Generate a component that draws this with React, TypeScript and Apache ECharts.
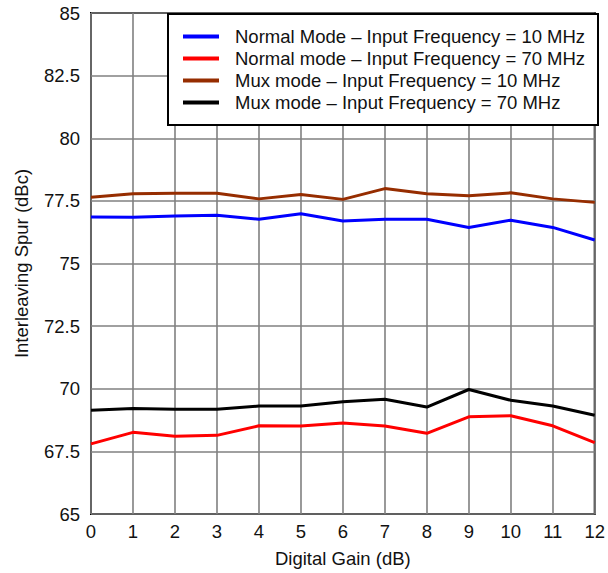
import React, { useEffect, useRef } from "react";
import * as echarts from "echarts";

const gains = [0, 1, 2, 3, 4, 5, 6, 7, 8, 9, 10, 11, 12];
const normal10 = [76.86, 76.85, 76.9, 76.93, 76.77, 76.99, 76.7, 76.77, 76.77, 76.44, 76.73, 76.44, 75.94];
const normal70 = [67.8, 68.26, 68.1, 68.14, 68.52, 68.51, 68.63, 68.51, 68.22, 68.88, 68.92, 68.52, 67.85];
const mux10 = [77.64, 77.78, 77.8, 77.8, 77.58, 77.75, 77.56, 77.99, 77.78, 77.7, 77.82, 77.58, 77.44];
const mux70 = [69.14, 69.21, 69.18, 69.18, 69.31, 69.31, 69.48, 69.58, 69.27, 69.97, 69.54, 69.31, 68.94];
const seriesNames = [
  "Normal Mode \u2013 Input Frequency = 10 MHz",
  "Normal mode \u2013 Input Frequency = 70 MHz",
  "Mux mode \u2013 Input Frequency = 10 MHz",
  "Mux mode \u2013 Input Frequency = 70 MHz",
];
const seriesColors = ["#0000ff", "#ff0000", "#962d00", "#000000"];

export default function App() {
  const ref = useRef<HTMLDivElement>(null);
  useEffect(() => {
    if (!ref.current) return;
    const chart = echarts.init(ref.current, null, { renderer: "svg" });
    const font = "'Liberation Sans', Arial, sans-serif";
    const fs = 18.5;
    const data = [normal10, normal70, mux10, mux70];
    chart.setOption({
      animation: false,
      backgroundColor: "#ffffff",
      grid: {
        left: 91,
        right: 11,
        top: 13,
        bottom: 53,
        show: true,
        borderColor: "#000",
        borderWidth: 2,
      },
      xAxis: {
        type: "value",
        min: 0,
        max: 12,
        interval: 1,
        name: "Digital Gain (dB)",
        nameLocation: "middle",
        nameGap: 35,
        nameTextStyle: { fontFamily: font, fontSize: fs, color: "#111" },
        axisLine: { show: false },
        axisTick: { show: false },
        axisLabel: { fontFamily: font, fontSize: fs, color: "#111", margin: 8 },
        splitLine: { show: true, lineStyle: { color: "#808080", width: 1.6 } },
      },
      yAxis: {
        type: "value",
        min: 65,
        max: 85,
        interval: 2.5,
        name: "Interleaving Spur (dBc)",
        nameLocation: "middle",
        nameGap: 60,
        nameTextStyle: { fontFamily: font, fontSize: fs, color: "#111" },
        axisLine: { show: false },
        axisTick: { show: false },
        axisLabel: { fontFamily: font, fontSize: fs, color: "#111", margin: 11 },
        splitLine: { show: true, lineStyle: { color: "#808080", width: 1.6 } },
      },
      legend: {
        orient: "vertical",
        left: 178,
        top: 22,
        z: 10,
        icon: "rect",
        itemWidth: 36,
        itemHeight: 4,
        itemGap: 3,
        textStyle: { fontFamily: font, fontSize: fs, color: "#111", padding: [0, 0, 0, 11] },
        data: seriesNames,
      },
      graphic: [
        {
          type: "rect",
          left: 167,
          top: 13,
          shape: { width: 430, height: 111 },
          style: { fill: "#fff", stroke: "#000", lineWidth: 2 },
          z: 4,
        },
      ],
      series: seriesNames.map((name, i) => ({
        name,
        type: "line",
        symbol: "none",
        color: seriesColors[i],
        lineStyle: { width: 3, color: seriesColors[i] },
        data: gains.map((g, j) => [g, data[i][j]]),
        z: 3,
      })),
    });
    return () => chart.dispose();
  }, []);
  return <div ref={ref} style={{ width: 608, height: 573, position: "absolute", left: 0, top: 0 }} />;
}
